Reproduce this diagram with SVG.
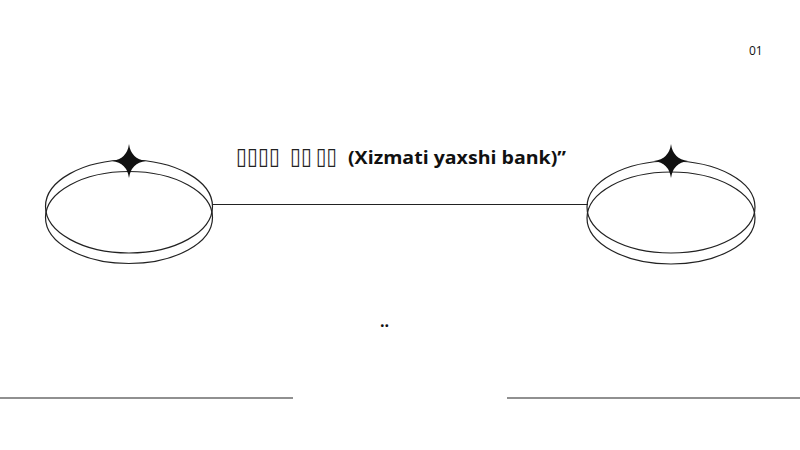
<svg xmlns="http://www.w3.org/2000/svg" width="800" height="450" viewBox="0 0 800 450">
<defs>
<style>
.ring{fill:none;stroke:#222;stroke-width:1.2}
.ln{stroke:#222;stroke-width:1.2;fill:none}
.t{font-family:"Open Sans","Noto Sans","Liberation Sans",sans-serif;fill:#111}
.box{font-family:"DejaVu Sans",sans-serif;font-weight:normal;fill:#222;font-size:23px}
</style>
<path id="star" d="M0,-17 Q2,-2 17,0 Q2,2 0,17 Q-2,2 -17,0 Q-2,-2 0,-17Z" fill="#111"/>
</defs>
<rect width="800" height="450" fill="#fff"/>
<g id="connectors">
<line class="ln" x1="212" y1="204.5" x2="588" y2="204.5"/>
<line class="ln" x1="0" y1="398" x2="293" y2="398"/>
<line class="ln" x1="507" y1="398" x2="800" y2="398"/>
</g>
<g id="node-left">
<ellipse class="ring" cx="129" cy="206.5" rx="83.5" ry="46.5"/>
<ellipse class="ring" cx="129" cy="217.5" rx="83.5" ry="46"/>
<use href="#star" x="129" y="161"/>
</g>
<g id="node-right">
<ellipse class="ring" cx="671" cy="207" rx="84" ry="46"/>
<ellipse class="ring" cx="671" cy="218" rx="84" ry="46"/>
<use href="#star" x="671" y="161"/>
</g>
<g id="title">
<text class="t" y="164" font-size="17" font-weight="bold"><tspan class="box" x="236" y="164" textLength="44" lengthAdjust="spacingAndGlyphs">▯▯▯▯</tspan><tspan class="box" x="290" y="164" textLength="22" lengthAdjust="spacingAndGlyphs">▯▯</tspan><tspan class="box" x="316" y="164" textLength="21" lengthAdjust="spacingAndGlyphs">▯▯</tspan><tspan x="348" y="164" textLength="218" lengthAdjust="spacingAndGlyphs">(Xizmati yaxshi bank)”</tspan></text>
</g>
<text class="t" x="749" y="55" font-size="12">01</text>
<text class="t" x="380" y="327" font-size="16" font-weight="bold">..</text>
</svg>
